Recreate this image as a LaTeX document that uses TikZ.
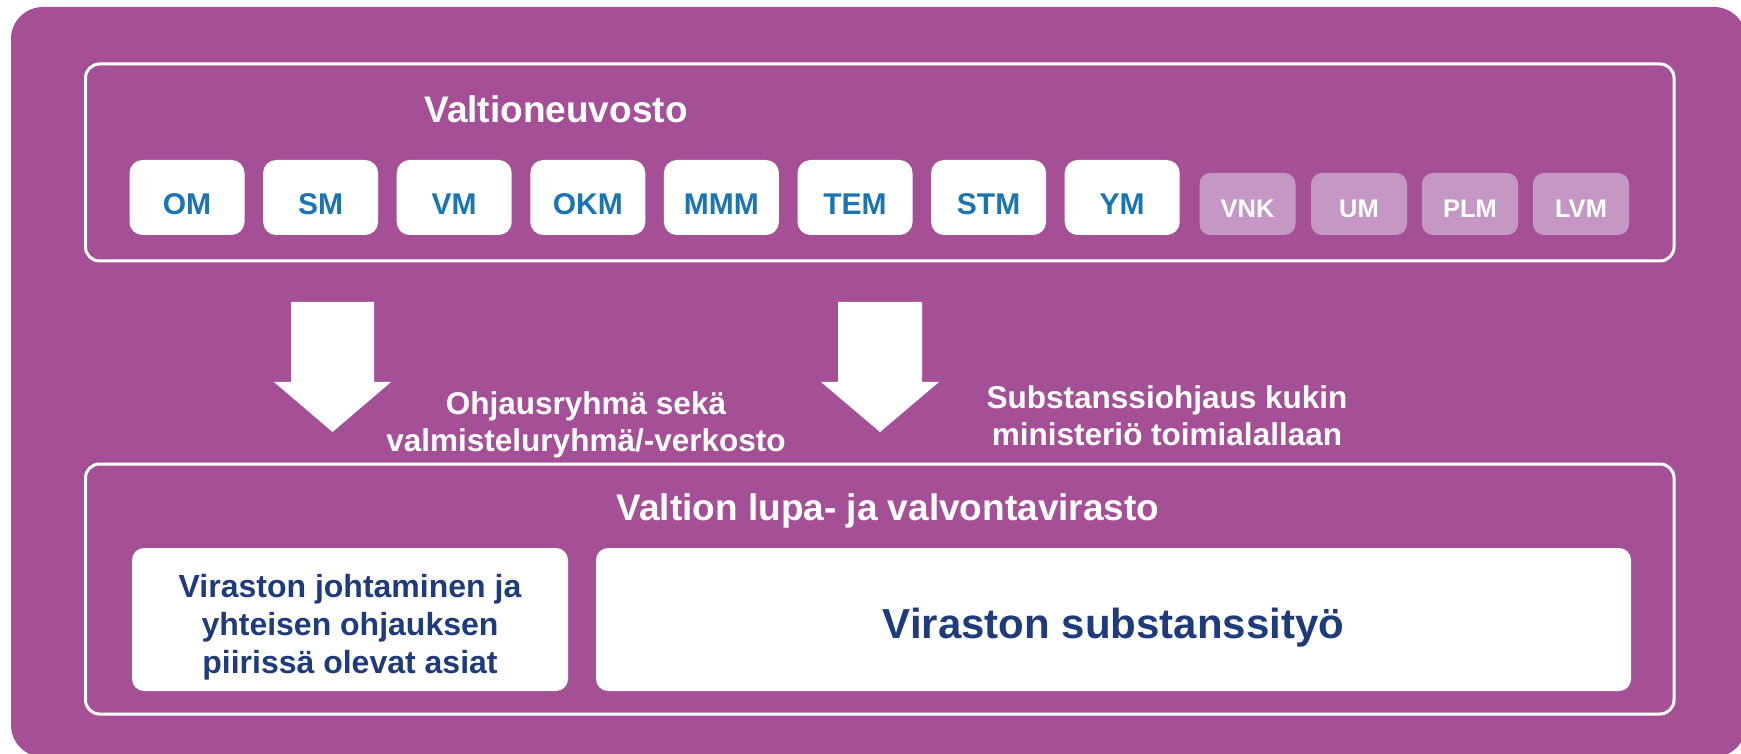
\documentclass[tikz,border=0pt]{standalone}
\usepackage{fontspec}
\setmainfont{Liberation Sans}
\definecolor{bgpurple}{HTML}{A55096}
\definecolor{lightpurple}{HTML}{C497C4}
\definecolor{minblue}{HTML}{1A75B2}
\definecolor{navy}{HTML}{1F3B7B}
\begin{document}
\begin{tikzpicture}[x=0.5pt,y=-0.5pt,
  frame/.style={draw=white,line width=1.5pt,rounded corners=7pt,inner sep=0pt,
    minimum width=794.25pt},
  minbox/.style={fill=white,rounded corners=6.5pt,inner sep=0pt,
    minimum width=57.5pt,minimum height=37.5pt,text=minblue,
    font=\fontsize{15}{18}\selectfont\bfseries,text height=17.5pt,text depth=0pt},
  lightbox/.style={fill=lightpurple,rounded corners=5.5pt,inner sep=0pt,
    minimum width=48pt,minimum height=31pt,text=white,
    font=\fontsize{12.75}{15}\selectfont\bfseries,text height=14pt,text depth=0pt},
  title/.style={text=white,inner sep=0pt,anchor=base,
    font=\fontsize{18.5}{22}\selectfont\bfseries},
  arrowtext/.style={text=white,inner sep=0pt,align=center,
    font=\fontsize{15.75}{18.5}\selectfont\bfseries},
  innerbox/.style={fill=white,rounded corners=6pt,inner sep=0pt,
    minimum height=71.5pt,text=navy},
  blockarrow/.style={fill=white}
]
\useasboundingbox (0,0) rectangle (1741,754);
% background
\fill[bgpurple,rounded corners=16pt] (11,7) rectangle (1746,757);

% Valtioneuvosto frame
\node[frame,minimum height=98.5pt] (vn) at (879.75,162.5) {};
\node[title] (vnlabel) at (556,123) {Valtioneuvosto};

\node[minbox] (om)  at (187,197.5)    {OM};
\node[minbox] (sm)  at (320.6,197.5)  {SM};
\node[minbox] (vm)  at (454.2,197.5)  {VM};
\node[minbox] (okm) at (587.8,197.5)  {OKM};
\node[minbox] (mmm) at (721.4,197.5)  {MMM};
\node[minbox] (tem) at (855,197.5)    {TEM};
\node[minbox] (stm) at (988.6,197.5)  {STM};
\node[minbox] (ym)  at (1122.2,197.5) {YM};

\node[lightbox] (vnk) at (1247.5,204) {VNK};
\node[lightbox] (um)  at (1359,204)   {UM};
\node[lightbox] (plm) at (1470,204)   {PLM};
\node[lightbox] (lvm) at (1581,204)   {LVM};

% block arrows
\fill[blockarrow] (291,302) -- (374,302) -- (374,382) -- (391,382) -- (332.5,432)
  -- (274,382) -- (291,382) -- cycle;
\fill[blockarrow] (838,302) -- (922,302) -- (922,382) -- (939,382) -- (880,432)
  -- (821,382) -- (838,382) -- cycle;

\node[arrowtext] (txtl) at (586,425.3) {Ohjausryhmä sekä\\valmisteluryhmä/-verkosto};
\node[arrowtext] (txtr) at (1167,415.8) {Substanssiohjaus kukin\\ministeriö toimialallaan};

% Valtion lupa- ja valvontavirasto frame
\node[frame,minimum height=125pt] (lv) at (879.75,589) {};
\node[title] (lvlabel) at (888,520) {Valtion lupa- ja valvontavirasto};

\node[innerbox,minimum width=218pt] (lead) at (350,619.5) {};
\node[text=navy,inner sep=0pt,align=center,
  font=\fontsize{16}{19}\selectfont\bfseries] (leadtxt) at (350,627)
  {Viraston johtaminen ja\\yhteisen ohjauksen\\piirissä olevat asiat};
\node[innerbox,minimum width=517.5pt,
  font=\fontsize{21}{25}\selectfont\bfseries,text height=18.5pt,text depth=0pt]
  (subst) at (1113.5,619.5) {Viraston substanssityö};
\end{tikzpicture}
\end{document}
